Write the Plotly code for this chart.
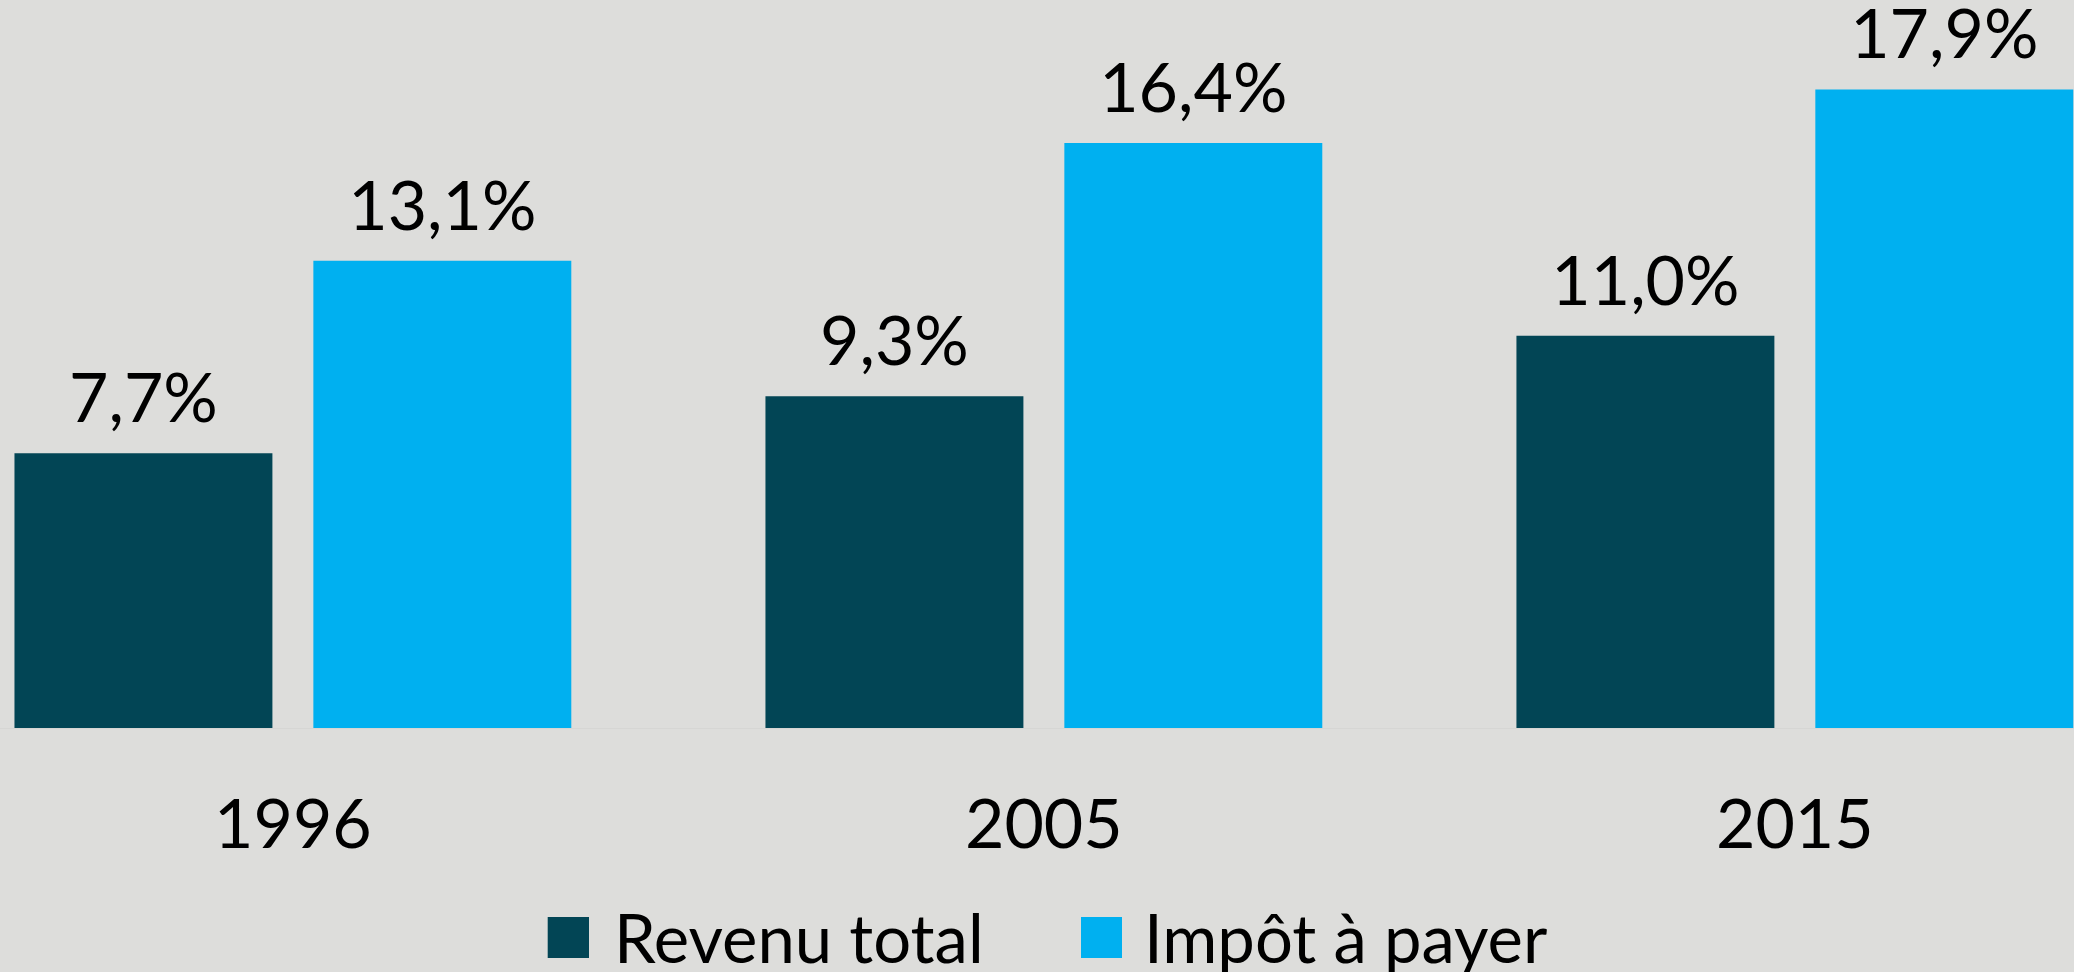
import plotly.graph_objects as go

years = ["1996", "2005", "2015"]
revenu_total = [7.7, 9.3, 11.0]
impot_a_payer = [13.1, 16.4, 17.9]
series_names = ["Revenu total", "Impôt à payer"]
colors = ["#024555", "#00B0F0"]

W, H = 2074, 972
FONT = "Lato"
BARGAP = 0.204

fig = go.Figure()
for name, vals, col in zip(series_names, [revenu_total, impot_a_payer], colors):
    fig.add_trace(go.Bar(
        x=years, y=vals, name=name, marker=dict(color=col, line=dict(width=0)),
        showlegend=False, hoverinfo="skip",
    ))
# value labels, grouped like the bars, with extra offset above bar tops
for name, vals in zip(series_names, [revenu_total, impot_a_payer]):
    fig.add_trace(go.Scatter(
        x=years, y=vals, name=name, mode="markers+text",
        marker=dict(size=21, opacity=0), texttemplate="%{y:.1f}%",
        textposition="top center", cliponaxis=False,
        textfont=dict(family=FONT, size=68, color="black"), showlegend=False,
    ))

# custom legend (large square swatches)
sq = [(547.7, 589.0), (1081.0, 1122.0)]
txt_x = [612, 1142]
plot_h = 727.7
for (x0, x1), tx, name, col in zip(sq, txt_x, series_names, colors):
    fig.add_shape(type="rect", xref="paper", yref="paper",
                  x0=x0 / W, x1=x1 / W,
                  y0=(plot_h - 957.7) / plot_h, y1=(plot_h - 916.7) / plot_h,
                  fillcolor=col, line=dict(width=0))
    fig.add_annotation(xref="paper", yref="paper", x=tx / W, y=(plot_h - 937) / plot_h,
                       xanchor="left", yanchor="middle", showarrow=False, text=name,
                       font=dict(family=FONT, size=67, color="black"))

fig.update_layout(
    width=W, height=H,
    margin=dict(l=0, r=0, t=0, b=244.3, pad=0),
    paper_bgcolor="#DDDDDB", plot_bgcolor="#DDDDDB",
    barmode="group", bargap=BARGAP, bargroupgap=0.137,
    scattermode="group", scattergap=BARGAP,
    separators=", ",
    font=dict(family=FONT, color="black"),
    xaxis=dict(type="category", range=[-0.390, 2.3717], showgrid=False, zeroline=False,
               showline=True, linecolor="#D6D6D4", linewidth=1, ticks="",
               ticklabelstandoff=37, tickfont=dict(family=FONT, size=68, color="black")),
    yaxis=dict(range=[0, 20.41], visible=False, showgrid=False, zeroline=False),
)

fig.write_html("out.html", config={"displayModeBar": False},
               post_script="document.body.style.margin='0';document.body.style.overflow='hidden';")
